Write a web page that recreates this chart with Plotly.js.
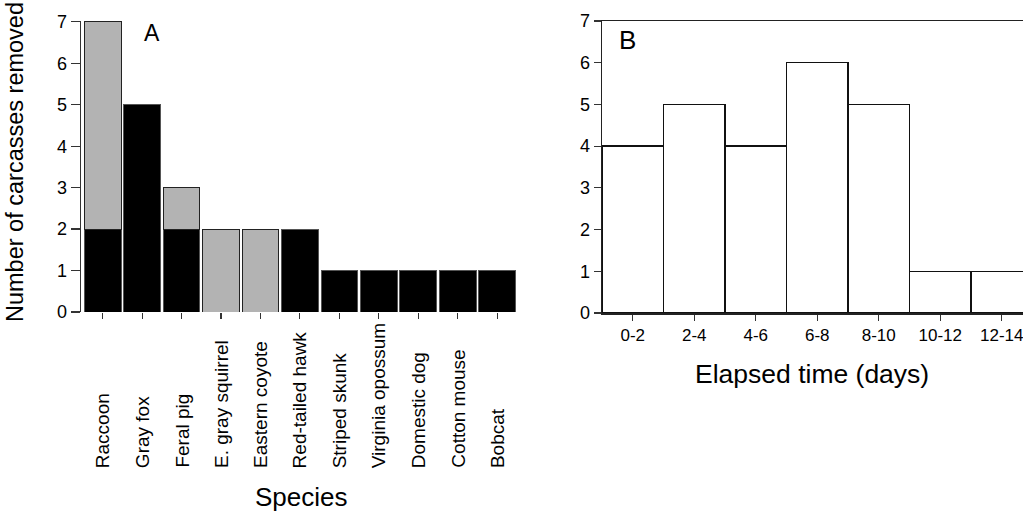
<!DOCTYPE html>
<html>
<head>
<meta charset="utf-8">
<script src="https://cdn.plot.ly/plotly-3.0.1.min.js"></script>
<style>
  html, body { margin: 0; padding: 0; background: #fff; }
  #chart { width: 1023px; height: 514px; }
</style>
</head>
<body>
<div id="chart"></div>
<script>
// ---- Data ----
const species = ['Raccoon', 'Gray fox', 'Feral pig', 'E. gray squirrel', 'Eastern coyote',
  'Red-tailed hawk', 'Striped skunk', 'Virginia opossum', 'Domestic dog', 'Cotton mouse', 'Bobcat'];
const removedBlack = [2, 5, 2, 0, 0, 2, 1, 1, 1, 1, 1];
const removedGray  = [5, 0, 1, 2, 2, 0, 0, 0, 0, 0, 0];
const timeBins = ['0-2', '2-4', '4-6', '6-8', '8-10', '10-12', '12-14'];
const timeCounts = [4, 5, 4, 6, 5, 1, 1];
const yTicks = [0, 1, 2, 3, 4, 5, 6, 7];

const FONT = 'Liberation Sans, Arial, sans-serif';
const W = 1023, H = 514;
const px = v => v / W;
const py = v => 1 - v / H;

const traces = [
  {
    type: 'bar', x: species, y: removedBlack, xaxis: 'x', yaxis: 'y',
    marker: { color: '#000000', line: { color: '#555555', width: 1 } },
    hoverinfo: 'skip'
  },
  {
    type: 'bar', x: species, y: removedGray.map(v => v === 0 ? null : v), xaxis: 'x', yaxis: 'y',
    marker: { color: '#b3b3b3', line: { color: '#222222', width: 1 } },
    hoverinfo: 'skip'
  },
  {
    type: 'bar', x: timeBins, y: timeCounts, xaxis: 'x2', yaxis: 'y2', width: 1,
    marker: { color: '#ffffff', line: { color: '#111111', width: 1.3 } },
    hoverinfo: 'skip'
  }
];

const annotations = [];
species.forEach(s => {
  annotations.push({
    text: s, x: s, xref: 'x', y: py(470), yref: 'paper',
    xanchor: 'center', yanchor: 'bottom', textangle: -90, showarrow: false,
    font: { family: FONT, size: 19, color: '#000' }
  });
});
annotations.push(
  { text: 'Number of carcasses removed', x: px(15), y: py(162), xref: 'paper', yref: 'paper',
    xanchor: 'center', yanchor: 'middle', textangle: -90, showarrow: false,
    font: { family: FONT, size: 23.5, color: '#000' } },
  { text: 'Species', x: px(301), y: py(497), xref: 'paper', yref: 'paper',
    xanchor: 'center', yanchor: 'middle', showarrow: false,
    font: { family: FONT, size: 26, color: '#000' } },
  { text: 'Elapsed time (days)', x: px(812), y: py(374), xref: 'paper', yref: 'paper',
    xanchor: 'center', yanchor: 'middle', showarrow: false,
    font: { family: FONT, size: 26.5, color: '#000' } },
  { text: 'A', x: px(152), y: py(33), xref: 'paper', yref: 'paper',
    xanchor: 'center', yanchor: 'middle', showarrow: false,
    font: { family: FONT, size: 23, color: '#000' } },
  { text: 'B', x: px(627), y: py(40), xref: 'paper', yref: 'paper',
    xanchor: 'center', yanchor: 'middle', showarrow: false,
    font: { family: FONT, size: 26, color: '#000' } }
);

const layout = {
  width: W, height: H,
  margin: { l: 0, r: 0, t: 0, b: 0, pad: 0 },
  paper_bgcolor: '#fff', plot_bgcolor: 'rgba(0,0,0,0)',
  showlegend: false,
  barmode: 'stack',
  bargap: 0.07,
  font: { family: FONT, color: '#000' },
  xaxis: {
    domain: [px(81), px(518)], range: [-0.55, 10.53],
    type: 'category', showticklabels: false,
    ticks: 'outside', ticklen: 6, tickwidth: 1.2, tickcolor: '#333',
    showline: false, showgrid: false, zeroline: false, anchor: 'y', fixedrange: true
  },
  yaxis: {
    domain: [py(312), py(21)], range: [0, 7.02],
    tickvals: yTicks, ticktext: yTicks.map(String),
    ticks: 'outside', ticklen: 9, tickwidth: 1.2, tickcolor: '#333',
    tickfont: { family: FONT, size: 18, color: '#000' },
    showline: true, linecolor: '#333', linewidth: 1.5,
    showgrid: false, zeroline: false, anchor: 'x', fixedrange: true
  },
  xaxis2: {
    domain: [px(602), 1], range: [-0.5, 6.345],
    type: 'category',
    ticks: 'outside', ticklen: 6, tickwidth: 1.2, tickcolor: '#333',
    tickfont: { family: FONT, size: 17, color: '#000' },
    showline: true, mirror: true, linecolor: '#222', linewidth: 1.5,
    showgrid: false, zeroline: false, anchor: 'y2', fixedrange: true
  },
  yaxis2: {
    domain: [py(313), py(21)], range: [0, 7],
    tickvals: yTicks, ticktext: yTicks.map(String),
    ticks: 'outside', ticklen: 7, tickwidth: 1.2, tickcolor: '#333',
    tickfont: { family: FONT, size: 18, color: '#000' },
    showline: true, linecolor: '#222', linewidth: 1.5,
    showgrid: false, zeroline: false, anchor: 'x2', fixedrange: true
  },
  annotations: annotations
};

Plotly.newPlot('chart', traces, layout, { displayModeBar: false, staticPlot: true });
</script>
</body>
</html>
